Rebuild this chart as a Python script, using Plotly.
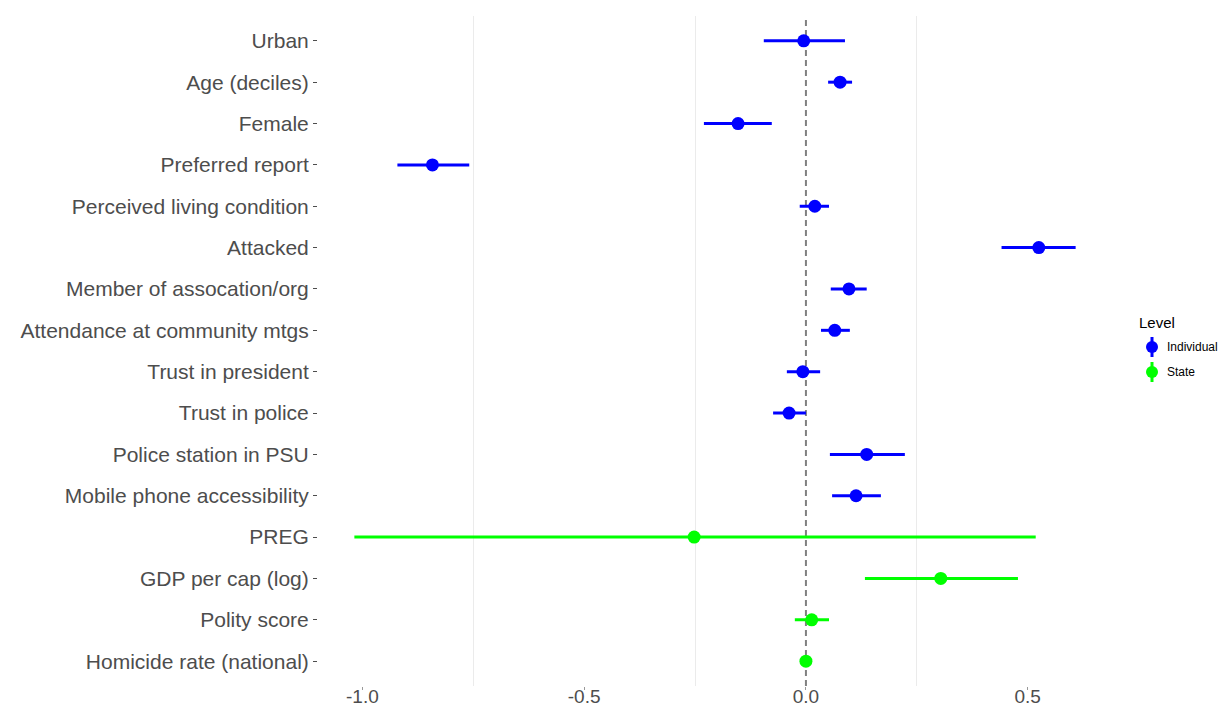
import plotly.graph_objects as go

terms = ["Urban", "Age (deciles)", "Female", "Preferred report", "Perceived living condition",
         "Attacked", "Member of assocation/org", "Attendance at community mtgs",
         "Trust in president", "Trust in police", "Police station in PSU",
         "Mobile phone accessibility", "PREG", "GDP per cap (log)", "Polity score",
         "Homicide rate (national)"]
levels = ["Individual"] * 12 + ["State"] * 4
estimates = [-0.005, 0.077, -0.153, -0.842, 0.020, 0.525, 0.097, 0.065,
             -0.007, -0.038, 0.137, 0.113, -0.252, 0.304, 0.013, 0.000]
lower = [-0.095, 0.050, -0.230, -0.921, -0.014, 0.441, 0.056, 0.034,
         -0.043, -0.074, 0.054, 0.059, -1.018, 0.133, -0.025, -0.004]
upper = [0.088, 0.104, -0.077, -0.759, 0.052, 0.608, 0.137, 0.099,
         0.032, 0.000, 0.223, 0.169, 0.518, 0.478, 0.052, 0.004]
level_names = ["Individual", "State"]
level_colors = {"Individual": "#0000FF", "State": "#00FF00"}
x_ticks = [-1.0, -0.5, 0.0, 0.5]
x_tick_labels = ["-1.0", "-0.5", "0.0", "0.5"]

# figure geometry (page has an 8px body margin)
W, H = 1219, 701
ML, MR, MT, MB = 310, 115, 8, 23
PW, PH = W - ML - MR, H - MT - MB

def px_x(X):
    return (X - ML) / PW

def px_y(Y):
    return (H - MB - Y) / PH

fig = go.Figure()
for lev in level_names:
    idx = [i for i, l in enumerate(levels) if l == lev]
    fig.add_trace(go.Scatter(
        x=[estimates[i] for i in idx],
        y=[terms[i] for i in idx],
        mode="markers",
        name=lev,
        showlegend=False,
        marker=dict(color=level_colors[lev], size=13, line=dict(width=0)),
        error_x=dict(type="data", symmetric=False,
                     array=[upper[i] - estimates[i] for i in idx],
                     arrayminus=[estimates[i] - lower[i] for i in idx],
                     color=level_colors[lev], thickness=3, width=0),
    ))

fig.add_vline(x=0, line=dict(color="#808080", width=2, dash="6px,4px"), layer="below")

# manual legend (pointrange glyphs)
fig.add_annotation(text="Level", xref="paper", yref="paper", x=px_x(1129), y=px_y(314),
                   xanchor="left", yanchor="middle", showarrow=False,
                   font=dict(size=15, color="black"))
for k, lev in enumerate(level_names):
    cy = px_y(339 + 25 * k)
    cx = px_x(1144)
    fig.add_shape(type="line", xref="paper", yref="paper", xsizemode="pixel", ysizemode="pixel",
                  xanchor=cx, yanchor=cy, x0=0, x1=0, y0=-10, y1=10,
                  line=dict(color=level_colors[lev], width=3))
    fig.add_shape(type="circle", xref="paper", yref="paper", xsizemode="pixel", ysizemode="pixel",
                  xanchor=cx, yanchor=cy, x0=-6, x1=6, y0=-6, y1=6,
                  fillcolor=level_colors[lev], line=dict(width=0))
    fig.add_annotation(text=lev, xref="paper", yref="paper", x=px_x(1157), y=cy,
                       xanchor="left", yanchor="middle", showarrow=False,
                       font=dict(size=12, color="black"))

fig.update_layout(
    width=W, height=H,
    margin=dict(l=ML, r=MR, t=MT, b=MB, autoexpand=False),
    plot_bgcolor="white", paper_bgcolor="white",
    font=dict(family="Liberation Sans, Arial, sans-serif", color="#4d4d4d"),
    showlegend=False,
    xaxis=dict(
        range=[-1.10, 0.69],
        tickvals=x_ticks, ticktext=x_tick_labels,
        showgrid=False, zeroline=False, showline=False,
        ticks="outside", ticklen=3, tickcolor="#999999",
        ticklabelstandoff=-10,
        tickfont=dict(size=19, color="#4d4d4d"),
        minor=dict(tickvals=[-0.75, -0.25, 0.25], showgrid=True,
                   gridcolor="#ebebeb", gridwidth=1, ticks=""),
    ),
    yaxis=dict(
        type="category",
        categoryorder="array", categoryarray=terms[::-1],
        range=[-0.6, len(terms) - 0.4],
        showgrid=False, zeroline=False, showline=False,
        ticks="outside", ticklen=4, tickcolor="#4d4d4d",
        tickfont=dict(size=21, color="#4d4d4d"),
    ),
)

fig.write_html("out.html")
